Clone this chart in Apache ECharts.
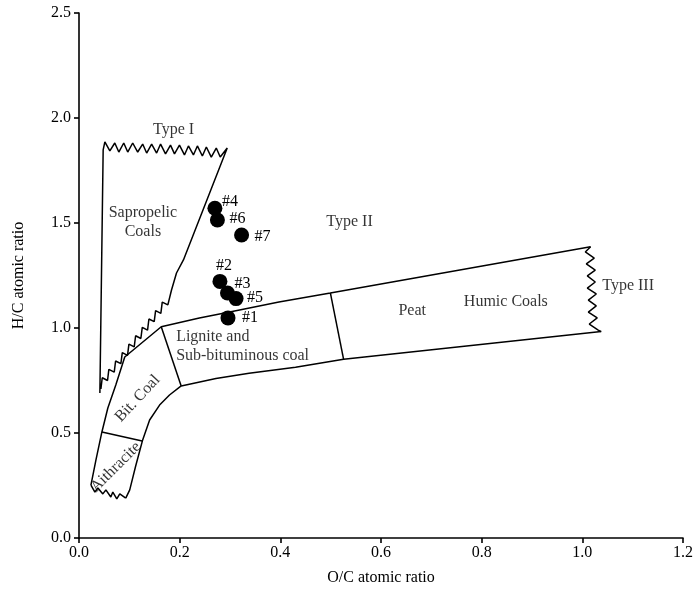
<!DOCTYPE html>
<html><head><meta charset="utf-8">
<script src="https://cdn.jsdelivr.net/npm/echarts@6/dist/echarts.min.js"></script>
<style>html,body{margin:0;padding:0;background:#fff}#c{width:696px;height:598px}</style>
</head><body><div id="c"></div>
<script>
// ---- axis ticks ----
const xTicks = [0.0, 0.2, 0.4, 0.6, 0.8, 1.0, 1.2];
const yTicks = [0.0, 0.5, 1.0, 1.5, 2.0, 2.5];

// ---- samples ----
const sampleNames = ['#1', '#2', '#3', '#4', '#5', '#6', '#7'];
const sampleOC = [0.296, 0.280, 0.295, 0.270, 0.312, 0.275, 0.323];
const sampleHC = [1.048, 1.222, 1.167, 1.570, 1.140, 1.514, 1.443];

// ---- diagram outlines (O/C, H/C) ----
const typeIOutline = [
  [0.0415,0.690],[0.048,1.848],[0.0514,1.886],
  [0.0613,1.843],[0.0711,1.881],[0.0791,1.838],[0.0889,1.881],[0.0968,1.838],[0.1067,1.881],
  [0.1166,1.838],[0.1265,1.876],[0.1344,1.833],[0.1443,1.876],[0.1542,1.833],[0.1621,1.876],
  [0.1719,1.829],[0.1818,1.871],[0.1897,1.829],[0.1996,1.871],[0.2095,1.824],[0.2174,1.867],
  [0.2273,1.824],[0.2352,1.867],[0.2451,1.819],[0.2530,1.862],[0.2628,1.814],[0.2727,1.857],
  [0.2806,1.814],[0.2945,1.857],
  [0.2075,1.324],[0.1937,1.262],[0.1838,1.181],[0.1765,1.110],
  [0.1654,1.123],[0.1626,1.070],[0.1522,1.083],[0.1494,1.030],[0.1389,1.043],[0.1362,0.990],
  [0.1257,1.003],[0.1229,0.950],[0.1125,0.963],[0.1097,0.910],[0.0992,0.923],[0.0964,0.870],
  [0.0860,0.883],[0.0832,0.830],[0.0727,0.843],[0.0700,0.790],[0.0593,0.803],[0.0567,0.750],
  [0.0462,0.763],[0.0435,0.710]
];
const coalUpper = [[0.0237,0.252],[0.0336,0.371],[0.0455,0.505],[0.0573,0.619],[0.0731,0.729],
  [0.0909,0.862],[0.1634,1.006],[0.2391,1.048],[0.3043,1.079],[0.3972,1.124],[0.4994,1.167],[1.0164,1.387]];
const typeIIIEnd = [[1.0164,1.387],[1.0059,1.362],[1.0237,1.333],[1.0079,1.305],[1.0257,1.276],
  [1.0099,1.248],[1.0257,1.219],[1.0099,1.190],[1.0277,1.162],[1.0119,1.133],[1.0277,1.105],
  [1.0119,1.076],[1.0296,1.048],[1.0138,1.019],[1.0316,0.990],[1.0375,0.983]];
const coalLower = [[1.0375,0.983],[0.5257,0.851],[0.4302,0.813],[0.3379,0.784],[0.2721,0.760],
  [0.2030,0.724],[0.1798,0.681],[0.1601,0.633],[0.1403,0.562],[0.1265,0.467],[0.1126,0.343],
  [0.1008,0.229],[0.0929,0.190]];
const anthraciteBase = [[0.0929,0.190],[0.0810,0.210],[0.0751,0.186],[0.0672,0.219],[0.0632,0.195],
  [0.0534,0.229],[0.0474,0.210],[0.0375,0.238],[0.0316,0.219],[0.0237,0.252]];
const anthraciteDivider = [[0.0455,0.505],[0.1255,0.462]];
const bitCoalDivider = [[0.1634,1.006],[0.2030,0.724]];
const peatDivider = [[0.4994,1.167],[0.5257,0.851]];

// ---- region labels ----
const regionNames = ['Type I', 'Sapropelic\nCoals', 'Type II', 'Type III', 'Peat', 'Humic Coals',
  'Lignite and\nSub-bituminous coal', 'Bit. Coal', 'Aithracite'];
const regionOC = [0.188, 0.127, 0.5375, 1.091, 0.662, 0.848, 0.193, 0.1166, 0.0731];
const regionHC = [1.943, 1.502, 1.505, 1.200, 1.081, 1.124, 0.915, 0.664, 0.338];

// ---- styles (not data) ----
const FONT = 'Liberation Serif, Times New Roman, serif';
const regionStyle = {
  'Lignite and\nSub-bituminous coal': { align: 'left' },
  'Bit. Coal': { rotate: 47 },
  'Aithracite': { rotate: 45 }
};
const sampleLabelOffset = {
  '#1': [22, 0], '#2': [4, -16], '#3': [15, -9], '#4': [15, -7],
  '#5': [19, -1], '#6': [20, -1], '#7': [21, 2]
};
const SYM = 15;

function outline(data) {
  return { type: 'line', data: data, symbol: 'none', silent: true, z: 2,
    lineStyle: { color: '#000', width: 1.5, opacity: 1 }, animation: false };
}

const chart = echarts.init(document.getElementById('c'), null, { renderer: 'canvas' });
chart.setOption({
  animation: false,
  backgroundColor: '#fff',
  grid: { left: 79, right: 10, top: 13, bottom: 60, containLabel: false },
  xAxis: {
    type: 'value', min: xTicks[0], max: xTicks[xTicks.length - 1], interval: 0.2,
    name: 'O/C atomic ratio', nameLocation: 'middle', nameGap: 32,
    nameTextStyle: { fontFamily: FONT, fontSize: 16, color: '#000' },
    axisLine: { show: true, onZero: false, lineStyle: { color: '#000', width: 1.6 } },
    axisTick: { show: true, inside: false, length: 5, lineStyle: { color: '#000', width: 1.6 } },
    axisLabel: { fontFamily: FONT, fontSize: 16, color: '#000', margin: 7,
      formatter: v => v.toFixed(1) },
    splitLine: { show: false }
  },
  yAxis: {
    type: 'value', min: yTicks[0], max: yTicks[yTicks.length - 1], interval: 0.5,
    name: 'H/C atomic ratio', nameLocation: 'middle', nameGap: 52,
    nameTextStyle: { fontFamily: FONT, fontSize: 16, color: '#000' },
    axisLine: { show: true, onZero: false, lineStyle: { color: '#000', width: 1.6 } },
    axisTick: { show: true, inside: false, length: 5, lineStyle: { color: '#000', width: 1.6 } },
    axisLabel: { fontFamily: FONT, fontSize: 16, color: '#000', margin: 8,
      formatter: v => v.toFixed(1) },
    splitLine: { show: false }
  },
  series: [
    outline(typeIOutline),
    outline(coalUpper),
    outline(typeIIIEnd),
    outline(coalLower),
    outline(anthraciteBase),
    outline(anthraciteDivider),
    outline(bitCoalDivider),
    outline(peatDivider),
    {
      type: 'scatter', silent: true, z: 3, symbolSize: 0,
      data: regionNames.map((n, i) => {
        const st = regionStyle[n] || {};
        return {
          name: n, value: [regionOC[i], regionHC[i]],
          label: {
            show: true, position: 'inside', formatter: '{b}',
            fontFamily: FONT, fontSize: 16, color: '#000', lineHeight: 19,
            align: st.align || 'center', verticalAlign: 'middle', rotate: st.rotate || 0
          }
        };
      })
    },
    {
      type: 'scatter', silent: true, z: 5, symbol: 'circle', symbolSize: SYM,
      itemStyle: { color: '#000', opacity: 1 },
      data: sampleNames.map((n, i) => {
        const o = sampleLabelOffset[n];
        return {
          name: n, value: [sampleOC[i], sampleHC[i]],
          label: {
            show: true, formatter: '{b}', position: [SYM / 2 + o[0], SYM / 2 + o[1]],
            align: 'center', verticalAlign: 'middle',
            fontFamily: FONT, fontSize: 16, color: '#000'
          }
        };
      })
    }
  ]
});
</script>
</body></html>
